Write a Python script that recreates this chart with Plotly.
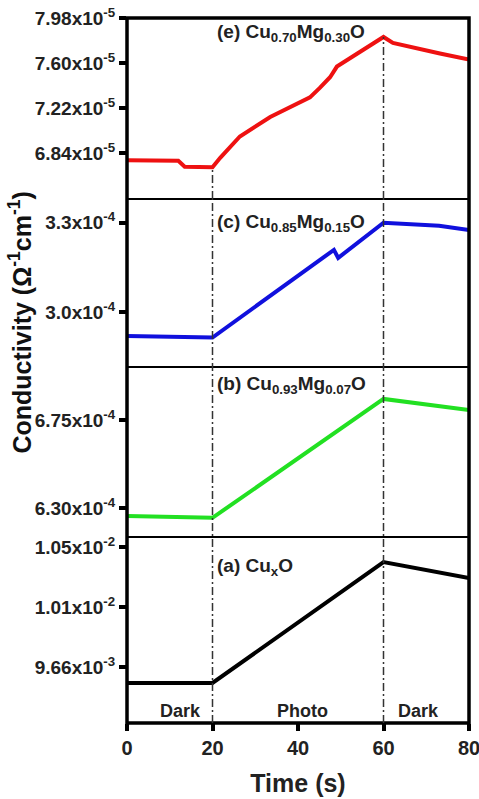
import plotly.graph_objects as go
from plotly.subplots import make_subplots

# ---- data ----
t_e = [0, 12, 13.5, 20, 21.8, 26.4, 33.5, 38.1, 42.8, 45.1, 47.5, 49.1, 52.2, 56.1, 60, 62.2, 66.9, 73.2, 80]
v_e = [6.78e-5, 6.775e-5, 6.725e-5, 6.72e-5, 6.80e-5, 6.98e-5, 7.144e-5, 7.23e-5, 7.31e-5, 7.39e-5,
       7.48e-5, 7.57e-5, 7.64e-5, 7.73e-5, 7.82e-5, 7.77e-5, 7.73e-5, 7.68e-5, 7.63e-5]

t_c = [0, 20, 48.4, 49.4, 60, 64, 73, 80]
v_c = [2.919e-4, 2.914e-4, 3.209e-4, 3.182e-4, 3.30e-4, 3.297e-4, 3.29e-4, 3.276e-4]

t_b = [0, 20, 60, 80]
v_b = [6.259e-4, 6.25e-4, 6.857e-4, 6.80e-4]

t_a = [0, 20, 60, 80]
v_a = [0.9548e-2, 0.9548e-2, 1.0395e-2, 1.0283e-2]

ticks_e = [6.84e-5, 7.22e-5, 7.60e-5, 7.98e-5]
labels_e = ["6.84x10<sup>-5</sup>", "7.22x10<sup>-5</sup>", "7.60x10<sup>-5</sup>", "7.98x10<sup>-5</sup>"]
ticks_c = [3.0e-4, 3.3e-4]
labels_c = ["3.0x10<sup>-4</sup>", "3.3x10<sup>-4</sup>"]
ticks_b = [6.30e-4, 6.75e-4]
labels_b = ["6.30x10<sup>-4</sup>", "6.75x10<sup>-4</sup>"]
ticks_a = [0.966e-2, 1.008e-2, 1.05e-2]
labels_a = ["9.66x10<sup>-3</sup>", "1.01x10<sup>-2</sup>", "1.05x10<sup>-2</sup>"]

x_ticks = [0, 20, 40, 60, 80]

panel_names = ["(e) Cu<sub>0.70</sub>Mg<sub>0.30</sub>O", "(c) Cu<sub>0.85</sub>Mg<sub>0.15</sub>O",
               "(b) Cu<sub>0.93</sub>Mg<sub>0.07</sub>O", "(a) Cu<sub>x</sub>O"]
phase_labels = ["Dark", "Photo", "Dark"]
phase_x = [12.4, 41, 68.3]
switch_t = [20, 60]

# ---- figure ----
heights = [181, 168, 170, 186]
fig = make_subplots(rows=4, cols=1, shared_xaxes=True, vertical_spacing=0, row_heights=heights)

FONT = "Liberation Sans"
series = [(t_e, v_e, "#ee1111"), (t_c, v_c, "#1010dd"), (t_b, v_b, "#22e022"), (t_a, v_a, "#000000")]
for i, (tt, vv, col) in enumerate(series):
    fig.add_trace(go.Scatter(x=tt, y=vv, mode="lines", line=dict(color=col, width=4),
                             showlegend=False), row=i + 1, col=1)

ranges = [[6.452e-5, 7.98e-5], [2.815e-4, 3.38e-4], [6.152e-4, 7.02e-4], [0.9268e-2, 1.057e-2]]
tks = [(ticks_e, labels_e), (ticks_c, labels_c), (ticks_b, labels_b), (ticks_a, labels_a)]
for i in range(4):
    fig.update_yaxes(range=ranges[i], tickvals=tks[i][0], ticktext=tks[i][1],
                     ticks="outside", ticklen=7, tickwidth=3.5, tickcolor="black",
                     showgrid=False, zeroline=False, showline=False, automargin=False,
                     tickfont=dict(family=FONT, size=19, color="#222", weight="bold"),
                     row=i + 1, col=1)
    fig.update_xaxes(range=[0, 80], showgrid=False, zeroline=False, showline=False,
                     automargin=False, row=i + 1, col=1)

fig.update_xaxes(tickvals=x_ticks, ticks="outside", ticklen=7, tickwidth=3.5, tickcolor="black",
                 ticklabeloverflow="allow",
                 tickfont=dict(family=FONT, size=20, color="#222", weight="bold"),
                 title=dict(text="Time (s)", font=dict(family=FONT, size=25, color="#222", weight="bold"),
                            standoff=16),
                 row=4, col=1)

# frame and separators
fig.add_shape(type="rect", xref="paper", yref="paper", x0=0, x1=1, y0=0, y1=1,
              line=dict(color="black", width=3.5), layer="above")
total = sum(heights)
acc = 0
for h in heights[:-1]:
    acc += h
    yy = 1 - acc / total
    fig.add_shape(type="line", xref="paper", yref="paper", x0=0, x1=1, y0=yy, y1=yy,
                  line=dict(color="black", width=2), layer="above")

# vertical dash-dot switch lines
sep_top = 1 - heights[0] / total
for k, ts in enumerate(switch_t):
    fig.add_shape(type="line", xref="x", yref="paper", x0=ts, x1=ts, y0=0, y1=sep_top,
                  line=dict(color="#333", width=1.5, dash="8px,3px,2px,3px"))
    val = v_e[t_e.index(ts)]
    fig.add_shape(type="line", xref="x", yref="y", x0=ts, x1=ts, y0=ranges[0][0], y1=val,
                  line=dict(color="#333", width=1.5, dash="8px,3px,2px,3px"))

# panel labels
label_y = [0.917, 0.857, 0.894, 0.839]
axes_names = ["y", "y2", "y3", "y4"]
for i in range(4):
    fig.add_annotation(text=panel_names[i], x=20.5, xref="x", y=label_y[i],
                       yref=axes_names[i] + " domain", xanchor="left", yanchor="middle",
                       showarrow=False, font=dict(family=FONT, size=19, color="#222", weight="bold"))

for lbl, px in zip(phase_labels, phase_x):
    fig.add_annotation(text=lbl, x=px, xref="x", y=0.065, yref="y4 domain", showarrow=False,
                       xanchor="center", yanchor="middle",
                       font=dict(family=FONT, size=18, color="#222", weight="bold"))

fig.add_annotation(text="Conductivity (Ω<sup>-1</sup>cm<sup>-1</sup>)", textangle=-90,
                   x=-0.313, xref="paper", y=0.568, yref="paper", showarrow=False,
                   xanchor="center", yanchor="middle",
                   font=dict(family=FONT, size=25, color="#111", weight="bold"))

fig.update_layout(width=479, height=799, margin=dict(l=127, r=10, t=18, b=76, autoexpand=False),
                  plot_bgcolor="white", paper_bgcolor="white")

fig.write_html("out.html", config={"displayModeBar": False},
               post_script="document.body.style.margin='0';document.body.style.overflow='hidden';")
